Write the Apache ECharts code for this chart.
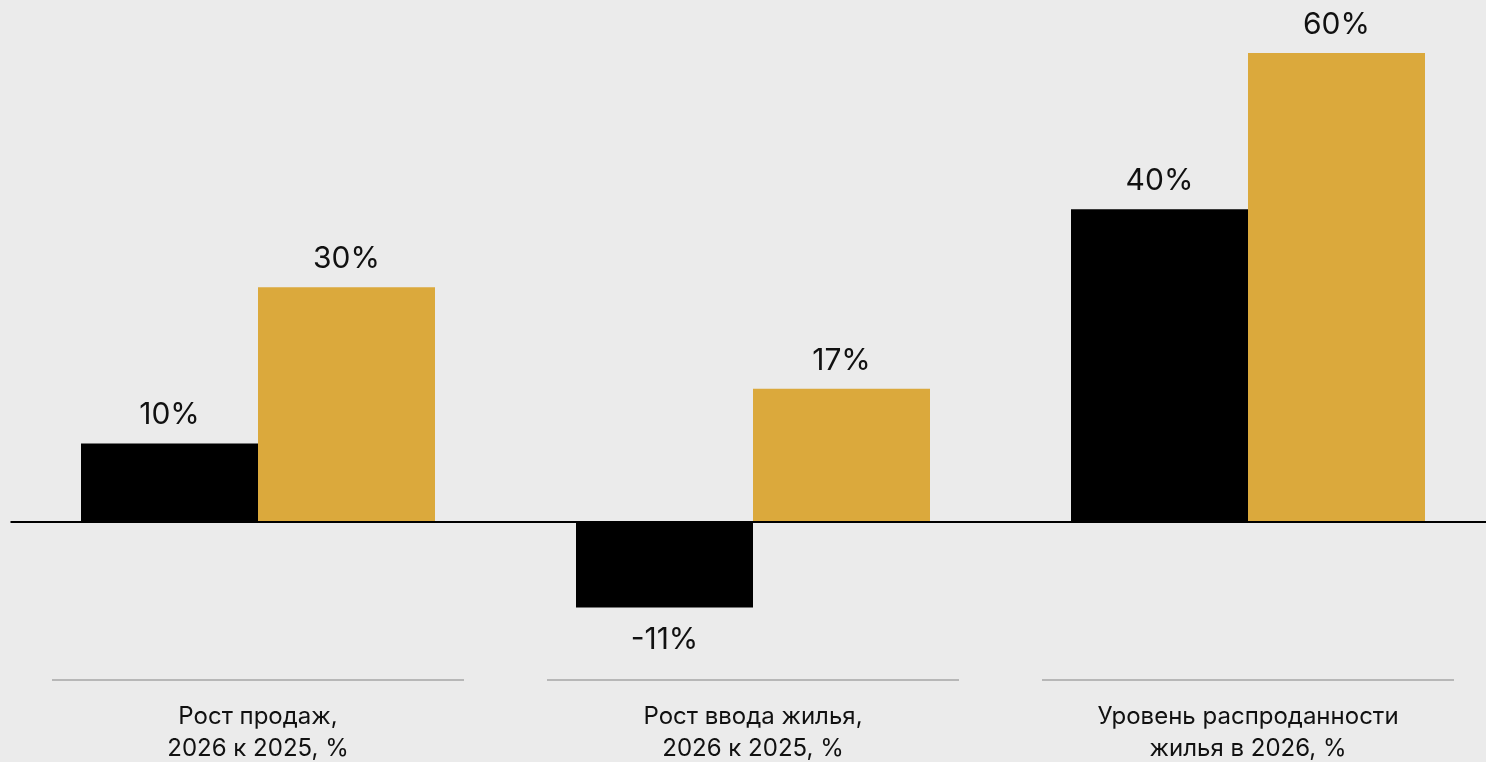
<!DOCTYPE html>
<html>
<head>
<meta charset="utf-8">
<script src="https://cdn.jsdelivr.net/npm/echarts@6/dist/echarts.min.js"></script>
<style>
  html,body{margin:0;padding:0;background:#ebebeb;}
  #chart{width:1486px;height:762px;}
</style>
</head>
<body>
<div id="chart"></div>
<script>
var categories = ['Рост продаж,\n2026 к 2025, %', 'Рост ввода жилья,\n2026 к 2025, %', 'Уровень распроданности\nжилья в 2026, %'];
var blackValues = [10, -11, 40];
var goldValues = [30, 17, 60];

var font = 'Inter';

function withLabels(values) {
  // подпись под столбцом, если значение отрицательное
  return values.map(function (v) {
    return {
      value: v,
      label: { position: v < 0 ? 'bottom' : 'top', distance: v < 0 ? 18 : 13 }
    };
  });
}

var barLabel = {
  show: true,
  formatter: '{c}%',
  fontFamily: font,
  fontSize: 30,
  color: '#111'
};

var chart = echarts.init(document.getElementById('chart'));
chart.setOption({
  backgroundColor: '#ebebeb',
  animation: false,
  grid: { left: 10.5, right: -9.5, top: 53, bottom: 84.3, outerBoundsMode: 'none', containLabel: false },
  xAxis: {
    type: 'category',
    data: categories,
    axisLine: { show: false, onZero: false },
    axisTick: { show: false },
    axisLabel: {
      margin: 23,
      fontFamily: font,
      fontSize: 24,
      lineHeight: 32,
      color: '#111'
    }
  },
  yAxis: {
    type: 'value',
    min: -20,
    max: 60,
    show: false
  },
  series: [
    {
      type: 'bar',
      data: withLabels(blackValues),
      barWidth: 177,
      barGap: '0%',
      itemStyle: { color: '#000' },
      label: barLabel,
      markLine: {
        silent: true,
        symbol: 'none',
        label: { show: false },
        lineStyle: { color: '#000', width: 2, type: 'solid' },
        data: [{ yAxis: 0 }]
      }
    },
    {
      type: 'bar',
      data: withLabels(goldValues),
      barWidth: 177,
      barGap: '0%',
      itemStyle: { color: '#dba93c' },
      label: barLabel
    }
  ]
});

// серые разделители над подписями категорий
var lines = categories.map(function (c, i) {
  var cx = chart.convertToPixel({ xAxisIndex: 0 }, i);
  return {
    type: 'line',
    shape: { x1: cx - 206, y1: 680, x2: cx + 206, y2: 680 },
    style: { stroke: '#a6a6a6', lineWidth: 1.5 }
  };
});
chart.setOption({ graphic: lines });
</script>
</body>
</html>
